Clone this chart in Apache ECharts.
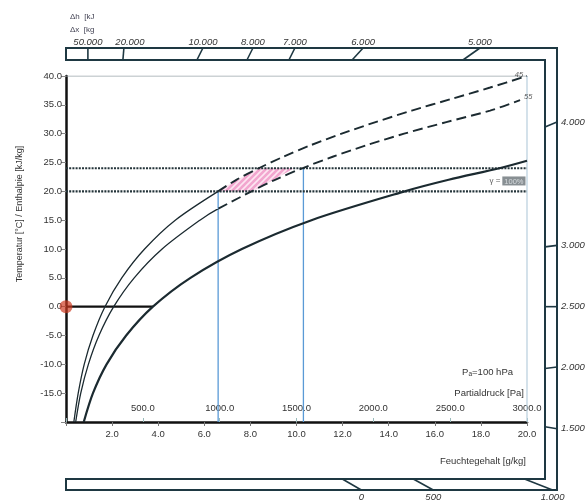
<!DOCTYPE html>
<html>
<head>
<meta charset="utf-8">
<script src="https://cdn.jsdelivr.net/npm/echarts@6/dist/echarts.min.js"></script>
<style>
  html, body { margin: 0; padding: 0; background: #fff; }
  #chart { width: 586px; height: 502px; }
</style>
</head>
<body>
<div id="chart"></div>
<script>
// Sättigungslinie (Feuchtegehalt g/kg, Temperatur °C)
const satCurve = [[0.77, -20], [1.17, -15], [1.76, -10], [2.61, -5], [3.77, 0], [5.4, 5], [7.63, 10], [10.65, 15], [14.7, 20], [16.6, 22], [18.8, 24], [20, 25.3]]
// relative Feuchte 45 % / 55 %
const rh45Solid = [[0.34, -20], [0.53, -15], [0.79, -10], [1.17, -5], [1.69, 0], [2.42, 5], [3.41, 10], [4.74, 15], [6.6, 20]]
const rh45Dash = [[6.6, 20], [7.39, 22], [8.36, 24], [9.43, 26], [10.62, 28], [11.96, 30], [13.43, 32], [15.0, 34], [16.7, 36], [18.4, 38], [20, 40]]
const rh55Solid = [[0.42, -20], [0.64, -15], [0.97, -10], [1.43, -5], [2.07, 0], [2.96, 5], [4.17, 10], [5.81, 15], [6.61, 17]]
const rh55Dash = [[6.61, 17], [8.05, 20], [9.07, 22], [10.25, 24], [11.57, 26], [13.04, 28], [14.67, 30], [16.5, 32], [18.4, 34], [19.7, 35.8]]
// schraffierter Bereich zwischen 20 °C und 24 °C
const hatchArea = [[6.6, 20], [7.0, 21], [7.45, 22], [7.9, 23], [8.38, 24], [9.9, 24], [9.45, 23], [9.0, 22], [8.55, 21], [8.1, 20]]
const tempLines = [20, 24]
const pressureLines = [[6.6, 20], [10.3, 24]]
const zeroLine = [[0, 0], [3.77, 0]]
const startPoint = [[0, 0]]
// Randskalen
const topScaleLabels = ['50.000', '20.000', '10.000', '8.000', '7.000', '6.000', '5.000']
const topScalePos = [0.95, 2.49, 5.81, 7.98, 9.8, 12.65, 17.59]
const rightScaleLabels = ['4.000', '3.000', '2.500', '2.000', '1.500']
const rightScalePos = [31.6, 10.5, 0, -10.6, -21.0]
const bottomScaleLabels = ['0', '500', '1.000']
const bottomScalePos = [12.4, 15.5, 20.5]

// Stil
const FONT = 'Liberation Sans, Arial, sans-serif'
const lineColor = '#1b2a30'
const frameColor = '#1e3842'
const FRAME = { left: 66, outerTop: 48, innerTop: 60, innerRight: 545, outerRight: 557, innerBottom: 479, outerBottom: 490 }
const topLean = [0, 1, 6, 6, 6, 11, 17]
const rightLean = [5, 1.5, 0, 1.5, -2]
const bottomLean = [-19, -20, -28]

const chart = echarts.init(document.getElementById('chart'))

function hatchPattern() {
  const c = document.createElement('canvas')
  c.width = 6
  c.height = 6
  const ctx = c.getContext('2d')
  ctx.fillStyle = '#f2a6cf'
  ctx.fillRect(0, 0, 6, 6)
  ctx.strokeStyle = '#fde6f1'
  ctx.lineWidth = 1.6
  ctx.beginPath()
  ctx.moveTo(0, 6); ctx.lineTo(6, 0)
  ctx.moveTo(-3, 3); ctx.lineTo(3, -3)
  ctx.moveTo(3, 9); ctx.lineTo(9, 3)
  ctx.stroke()
  return { image: c, repeat: 'repeat' }
}

function curve(data, type, width) {
  return {
    type: 'line', data: data, smooth: 0.3, showSymbol: false, silent: true,
    lineStyle: { color: lineColor, width: width, type: type }, z: 5
  }
}

function plainLine(data, color, width, type) {
  return {
    type: 'line', data: data, showSymbol: false, silent: true,
    lineStyle: { color: color, width: width, type: type || 'solid' }, z: 3
  }
}

const textStyle = { fontFamily: FONT, fontSize: 9.5, color: '#333' }

const option = {
  backgroundColor: '#fff',
  animation: false,
  grid: { left: 66, right: 59, top: 76, bottom: 80 },
  xAxis: [
    {
      type: 'value', min: 0, max: 20, interval: 2, position: 'bottom',
      axisLine: { show: true, onZero: false, lineStyle: { color: '#111', width: 2.5 } },
      axisTick: { show: true, length: 4, lineStyle: { color: '#777' } },
      axisLabel: { ...textStyle, margin: 7, formatter: v => v === 0 ? '' : v.toFixed(1) },
      splitLine: { show: false }
    },
    {
      type: 'value', min: 0, max: 3000, interval: 500, position: 'bottom',
      axisLine: { show: false, onZero: false },
      axisTick: { show: true, inside: true, length: 4, lineStyle: { color: '#9bb' } },
      axisLabel: { ...textStyle, inside: true, margin: 9, formatter: v => v === 0 ? '' : v.toFixed(1) },
      splitLine: { show: false }
    }
  ],
  yAxis: {
    type: 'value', min: -20, max: 40, interval: 5,
    axisLine: { show: true, onZero: false, lineStyle: { color: '#111', width: 2.5 } },
    axisTick: { show: true, length: 5, lineStyle: { color: '#888' } },
    axisLabel: { ...textStyle, margin: 4, formatter: v => v === -20 ? '' : v.toFixed(1) },
    splitLine: { show: false }
  },
  graphic: [
    {
      type: 'polygon', silent: true,
      shape: { points: [[FRAME.left, FRAME.outerTop], [FRAME.outerRight, FRAME.outerTop], [FRAME.outerRight, FRAME.outerBottom], [FRAME.left, FRAME.outerBottom], [FRAME.left, FRAME.innerBottom], [FRAME.innerRight, FRAME.innerBottom], [FRAME.innerRight, FRAME.innerTop], [FRAME.left, FRAME.innerTop]] },
      style: { fill: 'none', stroke: frameColor, lineWidth: 2 }
    },
    { type: 'text', left: 70, top: 10, style: { text: 'Δh  [kJ\nΔx  [kg', font: '8px ' + FONT, fill: '#445', lineHeight: 13 } },
    { type: 'text', x: 20, y: 214, rotation: Math.PI / 2, style: { text: 'Temperatur [°C] / Enthalpie [kJ/kg]', font: '9px ' + FONT, fill: '#333', align: 'center', verticalAlign: 'middle' } },
    { type: 'text', x: 526, y: 461, style: { text: 'Feuchtegehalt [g/kg]', font: '9.5px ' + FONT, fill: '#333', align: 'right', verticalAlign: 'middle' } },
    { type: 'text', x: 524, y: 393, style: { text: 'Partialdruck [Pa]', font: '9.5px ' + FONT, fill: '#333', align: 'right', verticalAlign: 'middle' } },
    {
      type: 'text', x: 513, y: 372,
      style: {
        text: '{a|P}{s|a}{a|=100 hPa}', align: 'right', verticalAlign: 'middle',
        rich: { a: { font: '9.5px ' + FONT, fill: '#333' }, s: { font: '6.5px ' + FONT, fill: '#333', padding: [5, 0, 0, 0] } }
      }
    }
  ],
  series: [
    {
      type: 'custom', silent: true, z: 2, data: hatchArea.map(p => p),
      renderItem(params, api) {
        if (params.dataIndex !== 0) return null
        const pts = hatchArea.map(p => api.coord(p))
        return { type: 'polygon', shape: { points: pts }, style: { fill: hatchPattern(), stroke: 'none' } }
      }
    },
    plainLine([[0, 40], [20, 40]], '#9aa5aa', 1),
    plainLine([[20, -20], [20, 40]], '#b8cedd', 1.2),
    ...pressureLines.map(p => plainLine([[p[0], -20], p], '#5a9ad6', 1.3)),
    ...tempLines.map(t => plainLine([[0, t], [20, t]], '#24343a', 2.2, [2, 1.2])),
    curve(satCurve, 'solid', 2.2),
    curve(rh45Solid, 'solid', 1.3),
    curve(rh45Dash, [10, 5], 1.9),
    curve(rh55Solid, 'solid', 1.3),
    curve(rh55Dash, [10, 5], 1.9),
    plainLine(zeroLine, '#111', 2.4),
    {
      type: 'scatter', data: startPoint, symbolSize: 13, silent: true, z: 6, clip: false,
      itemStyle: { color: 'rgba(205, 55, 30, 0.85)' }
    },
    {
      type: 'scatter', symbolSize: 1, silent: true, z: 7, clip: false,
      itemStyle: { color: 'rgba(0,0,0,0)' },
      data: [
        { value: [19.65, 40.2], label: { formatter: '45' } },
        { value: [20.05, 36.4], label: { formatter: '55' } }
      ],
      label: { show: true, position: 'inside', fontFamily: FONT, fontSize: 7.5, fontStyle: 'italic', color: '#333' }
    },
    {
      type: 'scatter', symbolSize: 1, silent: true, z: 7, clip: false,
      itemStyle: { color: 'rgba(0,0,0,0)' },
      data: [{ value: [20, 21.8] }],
      label: {
        show: true, position: 'left', distance: 1,
        formatter: '{g|γ =}{b|100%}',
        rich: {
          g: { fontFamily: FONT, fontSize: 8, color: '#333', padding: [0, 2, 0, 0] },
          b: { fontFamily: FONT, fontSize: 7.5, color: '#e8ecef', backgroundColor: '#6a7378', padding: [1, 2, 0, 2] }
        }
      }
    },
    {
      type: 'custom', silent: true, clip: false, z: 8,
      data: topScalePos.map(v => [v, 40]),
      renderItem(params, api) {
        const i = params.dataIndex
        const cx = api.coord([api.value(0), 40])[0]
        const l = topLean[i]
        return {
          type: 'group', children: [
            { type: 'line', shape: { x1: cx + l / 2, y1: FRAME.outerTop, x2: cx - l / 2, y2: FRAME.innerTop }, style: { stroke: frameColor, lineWidth: 1.6 } },
            { type: 'text', style: { text: topScaleLabels[i], x: cx + l / 2 + (i === 1 ? 6 : 0), y: FRAME.outerTop - 1, align: 'center', verticalAlign: 'bottom', font: 'italic 9.5px ' + FONT, fill: '#333' } }
          ]
        }
      }
    },
    {
      type: 'custom', silent: true, clip: false, z: 8,
      data: rightScalePos.map(v => [20, v]),
      renderItem(params, api) {
        const i = params.dataIndex
        const cy = api.coord([20, api.value(1)])[1]
        const l = rightLean[i]
        return {
          type: 'group', children: [
            { type: 'line', shape: { x1: FRAME.innerRight, y1: cy + l / 2, x2: FRAME.outerRight, y2: cy - l / 2 }, style: { stroke: frameColor, lineWidth: 1.6 } },
            { type: 'text', style: { text: rightScaleLabels[i], x: FRAME.outerRight + 4, y: cy - l / 2, align: 'left', verticalAlign: 'middle', font: 'italic 9.5px ' + FONT, fill: '#333' } }
          ]
        }
      }
    },
    {
      type: 'custom', silent: true, clip: false, z: 8,
      data: bottomScalePos.map(v => [v, -20]),
      renderItem(params, api) {
        const i = params.dataIndex
        const cx = api.coord([api.value(0), -20])[0]
        const l = bottomLean[i]
        return {
          type: 'group', children: [
            { type: 'line', shape: { x1: cx + l / 2, y1: FRAME.innerBottom, x2: cx - l / 2, y2: FRAME.outerBottom }, style: { stroke: frameColor, lineWidth: 1.6 } },
            { type: 'text', style: { text: bottomScaleLabels[i], x: cx - l / 2, y: FRAME.outerBottom + 7, align: 'center', verticalAlign: 'middle', font: 'italic 9.5px ' + FONT, fill: '#333' } }
          ]
        }
      }
    }
  ]
}

chart.setOption(option)
</script>
</body>
</html>
